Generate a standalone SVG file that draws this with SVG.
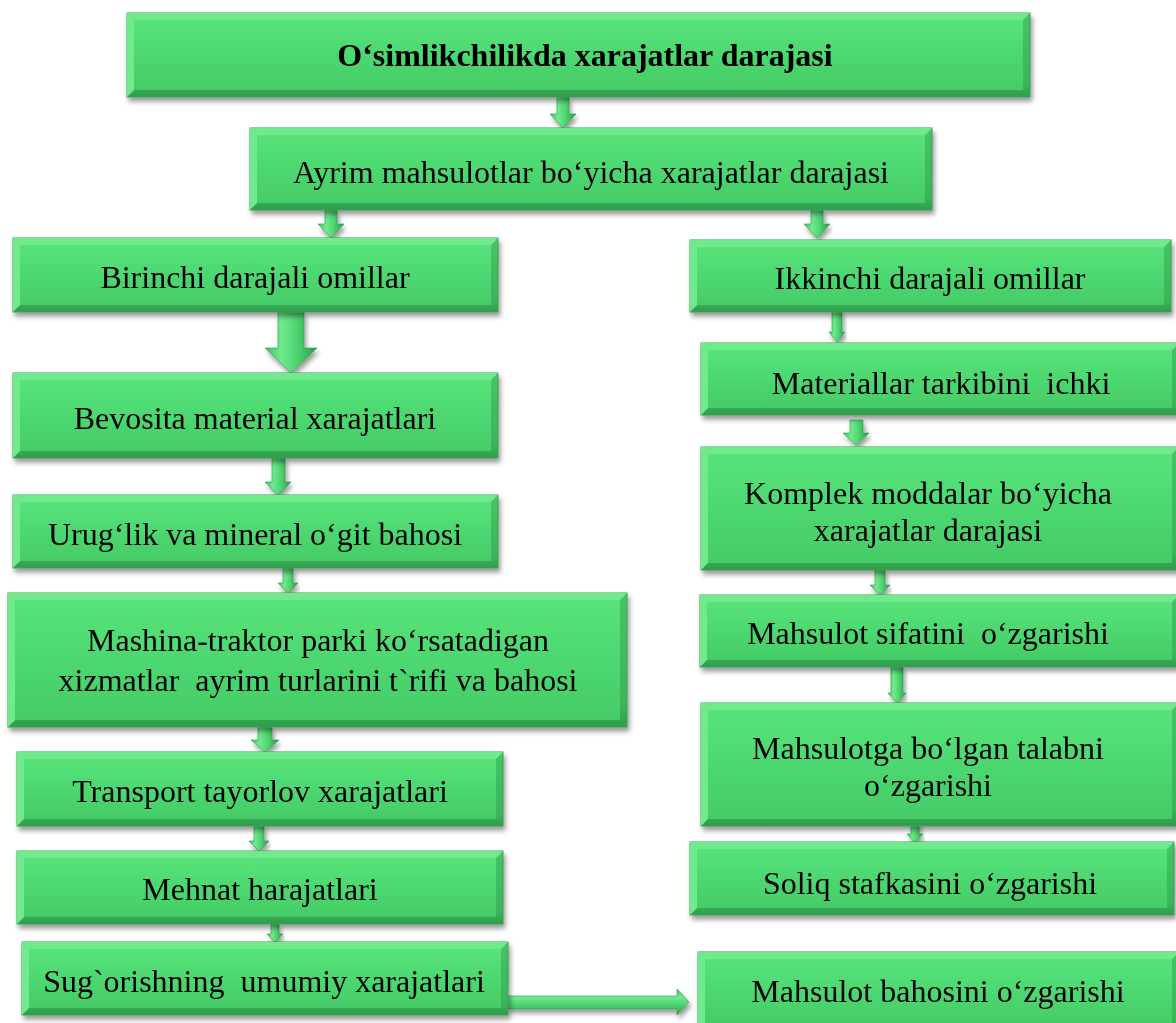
<svg xmlns="http://www.w3.org/2000/svg" width="1176" height="1023" viewBox="0 0 1176 1023">
<defs>
<linearGradient id="gOut" x1="0" y1="0" x2="0" y2="1">
<stop offset="0" stop-color="#46c466"/>
<stop offset="0.85" stop-color="#3bb45a"/>
<stop offset="1" stop-color="#2f9c4b"/>
</linearGradient>
<linearGradient id="gIn" x1="0" y1="0" x2="0" y2="1">
<stop offset="0" stop-color="#56e37a"/>
<stop offset="1" stop-color="#45cc67"/>
</linearGradient>
<linearGradient id="gArrV" x1="0" y1="0" x2="1" y2="0">
<stop offset="0" stop-color="#3cbf5e"/>
<stop offset="0.3" stop-color="#72ea8e"/>
<stop offset="0.6" stop-color="#4fd571"/>
<stop offset="1" stop-color="#2e9a4a"/>
</linearGradient>
<linearGradient id="gArrH" x1="0" y1="0" x2="0" y2="1">
<stop offset="0" stop-color="#3cbf5e"/>
<stop offset="0.3" stop-color="#72ea8e"/>
<stop offset="0.6" stop-color="#4fd571"/>
<stop offset="1" stop-color="#2e9a4a"/>
</linearGradient>
<filter id="sh" x="-10%" y="-20%" width="120%" height="150%">
<feDropShadow dx="2" dy="4" stdDeviation="2.5" flood-color="#000" flood-opacity="0.4"/>
</filter>
</defs>
<style>
.o{fill:url(#gOut);stroke:#3a9e52;stroke-width:1}
.l{fill:#6fea8c}
.i{fill:url(#gIn)}
.n{filter:url(#sh)}
.t{font-family:"Liberation Serif","Times New Roman",serif;font-size:32px;fill:#000;text-anchor:middle;white-space:pre}
.b{font-weight:bold}
.a{fill:url(#gArrV);stroke:#2f9a4a;stroke-width:0.6;filter:url(#sh)}
.ah{fill:url(#gArrH);stroke:#2f9a4a;stroke-width:0.6;filter:url(#sh)}
</style>
<rect width="1176" height="1023" fill="#fff"/>
<g id="connectors">
<path class="a" d="M557,97 H569 V114 H576 L563,128 L550,114 H557 Z"/>
<path class="a" d="M325,210 H337 V224 H344 L331,238 L318,224 H325 Z"/>
<path class="a" d="M811,210 H823 V224 H830 L817,238 L804,224 H811 Z"/>
<path class="a" d="M278,312 H304 V348 H317 L291,373 L265,348 H278 Z"/>
<path class="a" d="M272,458 H285 V482 H291 L278,495 L265,482 H272 Z"/>
<path class="a" d="M283,568 H293 V583 H298 L288,593 L278,583 H283 Z"/>
<path class="a" d="M258,727 H272 V740 H279 L265,752 L251,740 H258 Z"/>
<path class="a" d="M254,826 H264 V841 H269 L259,851 L249,841 H254 Z"/>
<path class="a" d="M271,924 H279 V934 H283 L275,942 L267,934 H271 Z"/>
<path class="a" d="M832,312 H842 V332 H845 L837,342 L829,332 H832 Z"/>
<path class="a" d="M850,420 H863 V433 H869 L856,445 L843,433 H850 Z"/>
<path class="a" d="M875,570 H885 V585 H890 L880,595 L870,585 H875 Z"/>
<path class="a" d="M891,667 H903 V693 H906 L897,703 L888,693 H891 Z"/>
<path class="a" d="M911,822 H919 V834 H923 L915,843 L907,834 H911 Z"/>
<path class="ah" d="M507,996 H677 V989 L689,1002 L677,1015 V1009 H507 Z"/>
</g>
<g id="n1" class="n"><rect class="o" x="127" y="13" width="903" height="84"/><path class="l" d="M127,13 H1030 L1023,20 H134 V90 L127,97 Z"/><rect class="i" x="134" y="20" width="889" height="70"/><text class="t b" x="585" y="66">O‘simlikchilikda xarajatlar darajasi</text></g>
<g id="n2" class="n"><rect class="o" x="250" y="128" width="682" height="82"/><path class="l" d="M250,128 H932 L925,135 H257 V203 L250,210 Z"/><rect class="i" x="257" y="135" width="668" height="68"/><text class="t" x="591" y="183">Ayrim mahsulotlar bo‘yicha xarajatlar darajasi</text></g>
<g id="n3" class="n"><rect class="o" x="13" y="238" width="485" height="74"/><path class="l" d="M13,238 H498 L491,245 H20 V305 L13,312 Z"/><rect class="i" x="20" y="245" width="471" height="60"/><text class="t" x="255" y="288">Birinchi darajali omillar</text></g>
<g id="n4" class="n"><rect class="o" x="690" y="240" width="481" height="72"/><path class="l" d="M690,240 H1171 L1164,247 H697 V305 L690,312 Z"/><rect class="i" x="697" y="247" width="467" height="58"/><text class="t" x="930" y="289">Ikkinchi darajali omillar</text></g>
<g id="n5" class="n"><rect class="o" x="13" y="373" width="485" height="85"/><path class="l" d="M13,373 H498 L491,380 H20 V451 L13,458 Z"/><rect class="i" x="20" y="380" width="471" height="71"/><text class="t" x="255" y="429">Bevosita material xarajatlari</text></g>
<g id="n6" class="n"><rect class="o" x="13" y="495" width="485" height="73"/><path class="l" d="M13,495 H498 L491,502 H20 V561 L13,568 Z"/><rect class="i" x="20" y="502" width="471" height="59"/><text class="t" x="255" y="545">Urug‘lik va mineral o‘git bahosi</text></g>
<g id="n7" class="n"><rect class="o" x="8" y="593" width="619" height="134"/><path class="l" d="M8,593 H627 L620,600 H15 V720 L8,727 Z"/><rect class="i" x="15" y="600" width="605" height="120"/><text class="t" x="318" y="651">Mashina-traktor parki ko‘rsatadigan</text><text class="t" x="318" y="691">xizmatlar  ayrim turlarini t`rifi va bahosi</text></g>
<g id="n8" class="n"><rect class="o" x="17" y="752" width="486" height="74"/><path class="l" d="M17,752 H503 L496,759 H24 V819 L17,826 Z"/><rect class="i" x="24" y="759" width="472" height="60"/><text class="t" x="260" y="802">Transport tayorlov xarajatlari</text></g>
<g id="n9" class="n"><rect class="o" x="17" y="851" width="486" height="73"/><path class="l" d="M17,851 H503 L496,858 H24 V917 L17,924 Z"/><rect class="i" x="24" y="858" width="472" height="59"/><text class="t" x="260" y="900">Mehnat harajatlari</text></g>
<g id="n10" class="n"><rect class="o" x="22" y="942" width="486" height="73"/><path class="l" d="M22,942 H508 L501,949 H29 V1008 L22,1015 Z"/><rect class="i" x="29" y="949" width="472" height="59"/><text class="t" x="264" y="992">Sug`orishning  umumiy xarajatlari</text></g>
<g id="n11" class="n"><rect class="o" x="701" y="343" width="478" height="72"/><path class="l" d="M701,343 H1179 L1172,350 H708 V408 L701,415 Z"/><rect class="i" x="708" y="350" width="464" height="58"/><text class="t" x="941" y="394">Materiallar tarkibini  ichki</text></g>
<g id="n12" class="n"><rect class="o" x="701" y="447" width="478" height="123"/><path class="l" d="M701,447 H1179 L1172,454 H708 V563 L701,570 Z"/><rect class="i" x="708" y="454" width="464" height="109"/><text class="t" x="928" y="504">Komplek moddalar bo‘yicha</text><text class="t" x="928" y="541">xarajatlar darajasi</text></g>
<g id="n13" class="n"><rect class="o" x="700" y="595" width="479" height="72"/><path class="l" d="M700,595 H1179 L1172,602 H707 V660 L700,667 Z"/><rect class="i" x="707" y="602" width="465" height="58"/><text class="t" x="928" y="644">Mahsulot sifatini  o‘zgarishi</text></g>
<g id="n14" class="n"><rect class="o" x="701" y="703" width="478" height="123"/><path class="l" d="M701,703 H1179 L1172,710 H708 V819 L701,826 Z"/><rect class="i" x="708" y="710" width="464" height="109"/><text class="t" x="928" y="759">Mahsulotga bo‘lgan talabni</text><text class="t" x="928" y="796">o‘zgarishi</text></g>
<g id="n15" class="n"><rect class="o" x="690" y="842" width="484" height="73"/><path class="l" d="M690,842 H1174 L1167,849 H697 V908 L690,915 Z"/><rect class="i" x="697" y="849" width="470" height="59"/><text class="t" x="930" y="894">Soliq stafkasini o‘zgarishi</text></g>
<g id="n16" class="n"><rect class="o" x="698" y="952" width="481" height="80"/><path class="l" d="M698,952 H1179 L1172,959 H705 V1025 L698,1032 Z"/><rect class="i" x="705" y="959" width="467" height="66"/><text class="t" x="938" y="1002">Mahsulot bahosini o‘zgarishi</text></g>
</svg>
